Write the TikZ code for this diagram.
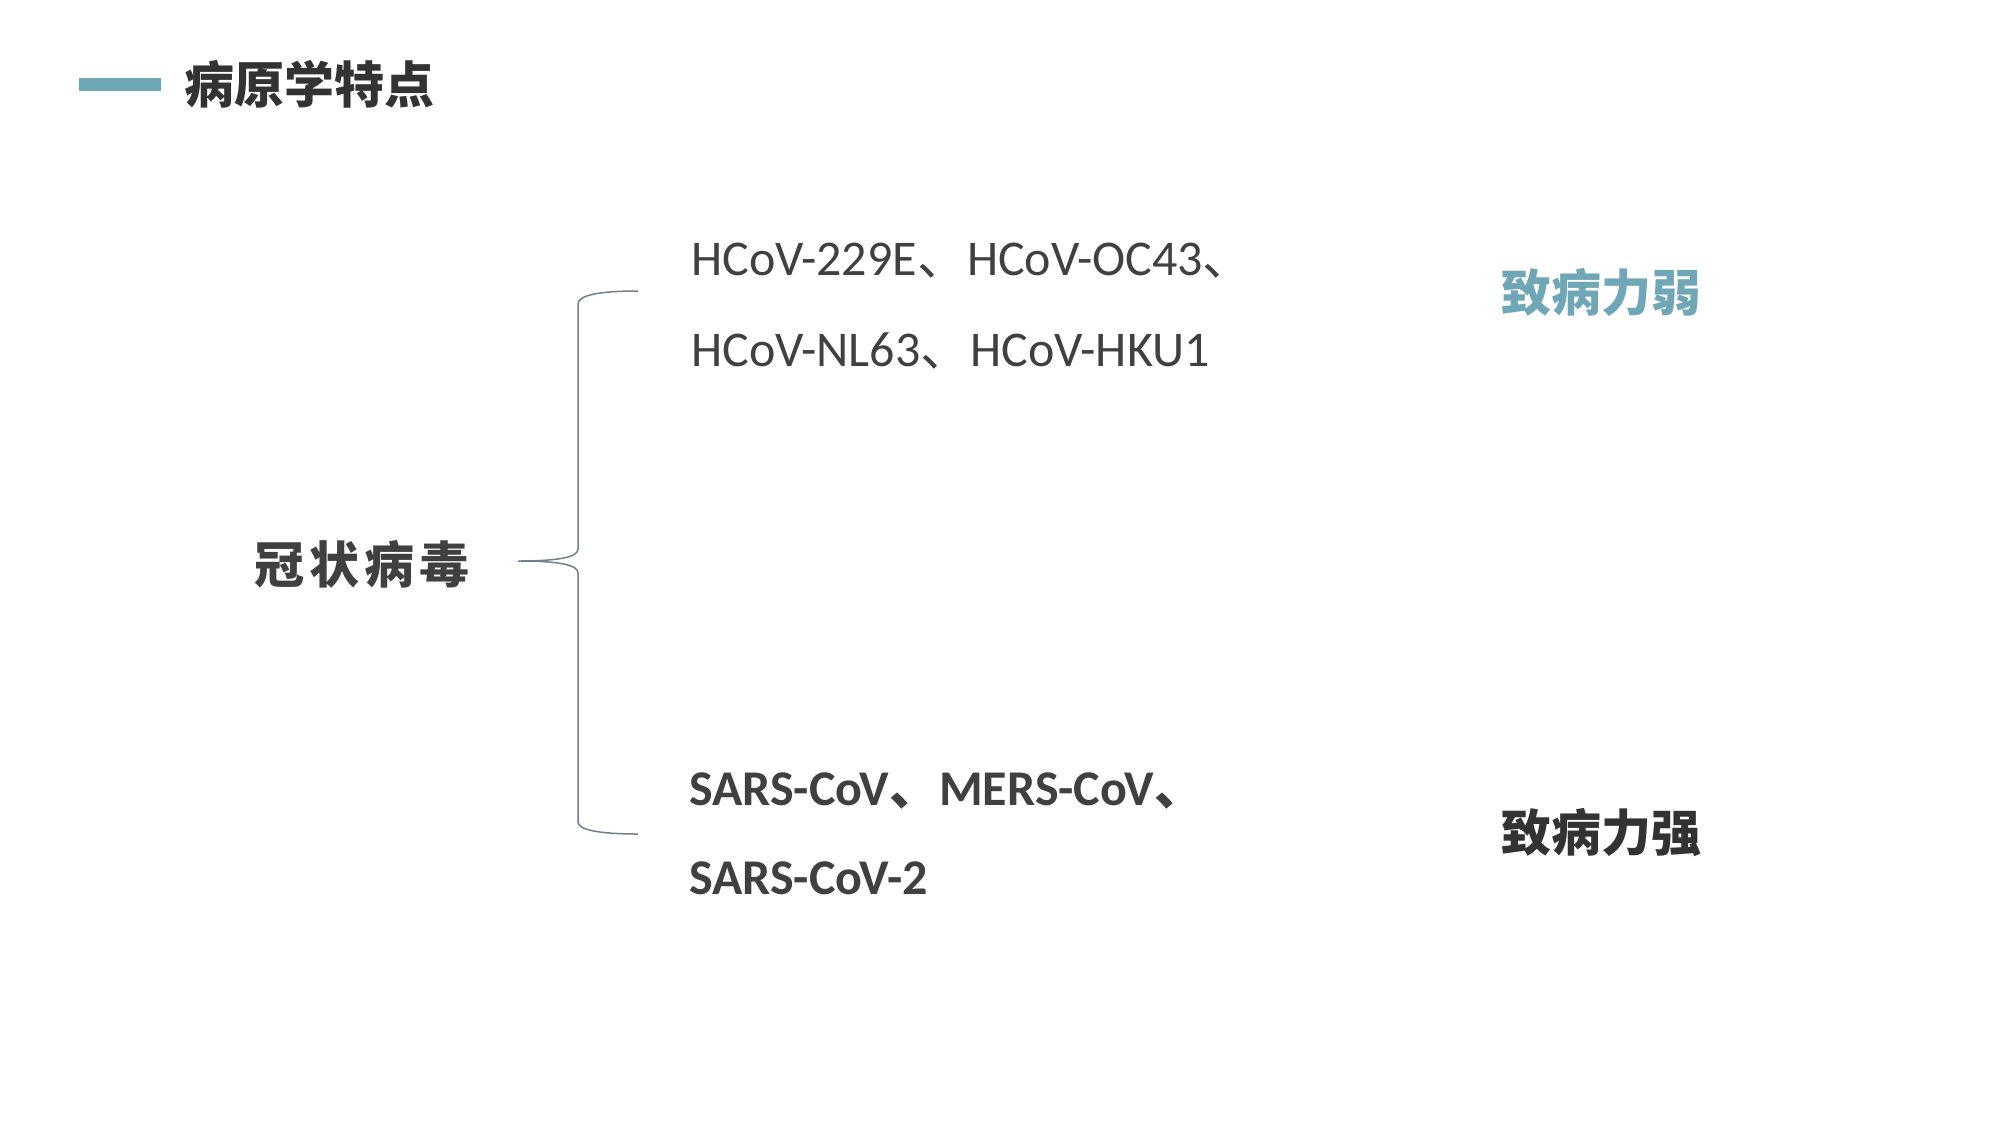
\documentclass[tikz,border=0pt]{standalone}
\usepackage{fontspec}
\newfontfamily\cjk{Noto Sans CJK SC}
\newfontfamily\lat{Carlito}
\definecolor{teal1}{HTML}{6FA7B7}
\definecolor{darktext}{HTML}{333333}
\definecolor{bodytext}{HTML}{404040}
\definecolor{bracecol}{HTML}{6F7F8E}
\tikzset{
  titletext/.style={anchor=base west, inner sep=0pt, text=darktext, font=\cjk\bfseries\fontsize{50}{50}\selectfont},
  bodyline/.style={anchor=base west, inner sep=0pt, text=bodytext, font=\lat\fontsize{50}{50}\selectfont},
  boldline/.style={anchor=base west, inner sep=0pt, text=bodytext, font=\lat\bfseries\fontsize{50}{50}\selectfont},
  bracepath/.style={draw=bracecol, line width=1.5pt}
}
\begin{document}
\begin{tikzpicture}[x=1pt,y=-1pt]
\useasboundingbox (0,0) rectangle (2000,1125);
% title
\fill[teal1] (79,78) rectangle (161,91);
\node[titletext] (title) at (184,103) {病原学特点};
% left label
\node[titletext, text=bodytext, font=\cjk\bfseries\fontsize{50}{50}\selectfont\addfontfeature{LetterSpace=10}] (cv) at (254,583) {冠状病毒};
% brace
\coordinate (btop) at (638,291);
\coordinate (bmid) at (518,561);
\coordinate (bbot) at (638,834);
\draw[bracepath] (btop) .. controls (600,291) and (578,295) .. (578,304) -- (578,549)
  .. controls (578,557) and (560,561) .. (bmid)
  .. controls (560,561) and (578,565) .. (578,573) -- (578,822)
  .. controls (578,830) and (600,834) .. (bbot);
% upper group
\node[bodyline] (l1) at (691,275) {HCoV-229E{\cjk 、}HCoV-OC43{\cjk 、}};
\node[bodyline] (l2) at (691,366) {HCoV-NL63{\cjk 、}HCoV-HKU1};
\node[titletext, text=teal1] (weak) at (1501,311) {致病力弱};
% lower group
\node[boldline] (l3) at (689,805) {SARS-CoV{\cjk\bfseries 、}MERS-CoV{\cjk\bfseries 、}};
\node[boldline] (l4) at (689,894) {SARS-CoV-2};
\node[titletext] (strong) at (1501,851) {致病力强};
\end{tikzpicture}
\end{document}
